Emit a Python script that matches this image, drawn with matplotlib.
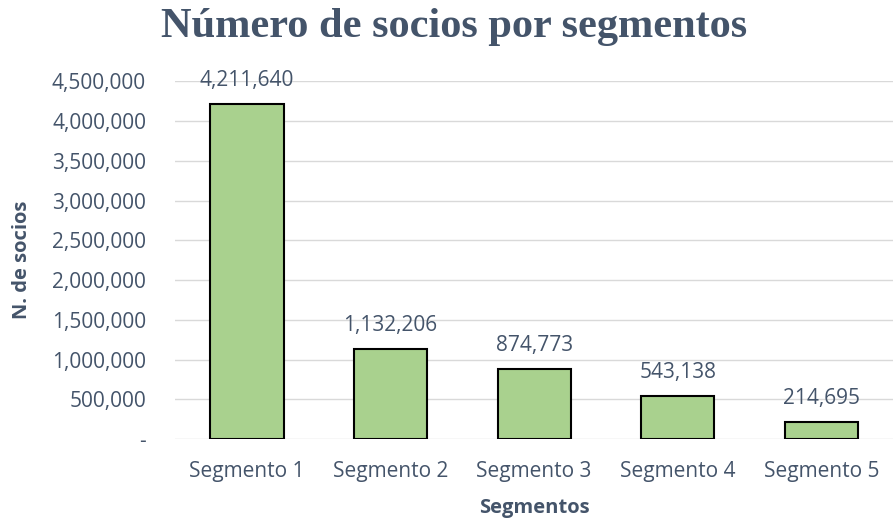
import matplotlib.pyplot as plt
from matplotlib.ticker import FuncFormatter

segmentos = ["Segmento 1", "Segmento 2", "Segmento 3", "Segmento 4", "Segmento 5"]
socios = [4211640, 1132206, 874773, 543138, 214695]

text_color = "#44546A"
plt.rcParams['font.family'] = ['Open Sans', 'DejaVu Sans']

fig = plt.figure(figsize=(8.94, 5.23), dpi=100)
ax = fig.add_axes([0.196, 0.1606, 0.803, 0.6839])

x = range(len(segmentos))
ax.bar(x, socios, width=0.51, color="#A9D18E", edgecolor="black", linewidth=1.5, zorder=3)

for i, v in zip(x, socios):
    ax.annotate(f"{v:,}", (i, v), xytext=(0, 17), textcoords="offset points",
                ha="center", va="center", fontsize=15, color=text_color)

ax.set_xlim(-0.5, len(segmentos) - 0.5)
ax.set_ylim(0, 4500000)
ax.set_yticks(range(0, 4500001, 500000))
ax.yaxis.set_major_formatter(FuncFormatter(lambda v, p: "-" if v == 0 else f"{int(v):,}"))
ax.set_xticks(list(x))
ax.set_xticklabels(segmentos)
ax.tick_params(axis="both", length=0, labelsize=15, labelcolor=text_color)
ax.tick_params(axis="x", pad=16)
ax.tick_params(axis="y", pad=21)

ax.grid(axis="y", color="#D9D9D9", linewidth=1, zorder=0)
for s in ax.spines.values():
    s.set_visible(False)

ax.set_xlabel("Segmentos", fontsize=14.5, fontweight="bold", color=text_color)
ax.xaxis.label.set_va("center")
ax.xaxis.set_label_coords(0.5, -0.193)
ax.set_ylabel("N. de socios", fontsize=14.5, fontweight="bold", color=text_color)
ax.yaxis.label.set_va("center")
ax.yaxis.set_label_coords(-0.213, 0.5)

fig.text(0.508, 0.948, "Número de socios por segmentos", ha="center", va="center",
         fontsize=30.5, fontweight="bold", color=text_color, family="Liberation Serif")

fig.savefig("out.png", dpi=100)
